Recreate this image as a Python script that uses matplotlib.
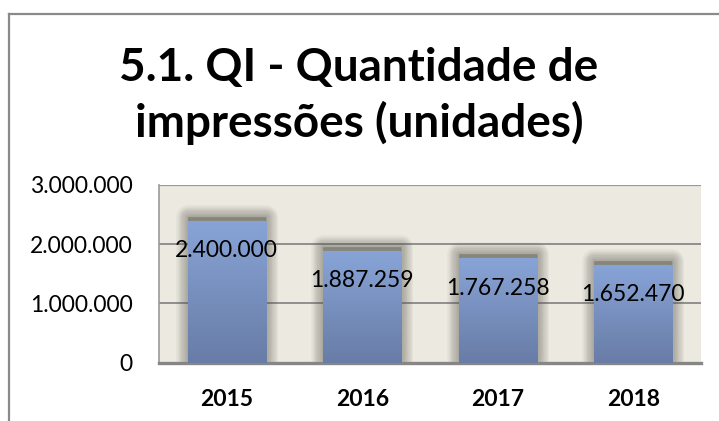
import matplotlib
matplotlib.use("Agg")
import matplotlib.pyplot as plt
import numpy as np
from matplotlib.patches import Rectangle
import matplotlib.transforms as mtransforms

years = ["2015", "2016", "2017", "2018"]
values = [2400000, 1887259, 1767258, 1652470]
value_labels = ["2.400.000", "1.887.259", "1.767.258", "1.652.470"]
yticks = [0, 1000000, 2000000, 3000000]
ytick_labels = ["0", "1.000.000", "2.000.000", "3.000.000"]
title = "5.1. QI - Quantidade de\nimpressões (unidades)"

W, H = 719, 421
fig = plt.figure(figsize=(W / 100, H / 100), dpi=100)
fig.patch.set_facecolor("white")

# outer chart border (cropped on right/bottom)
fig.add_artist(plt.Line2D([8.5 / W, 8.5 / W], [0, 1 - 14 / H], transform=fig.transFigure,
                          color="#8a8a8a", lw=1.6))
fig.add_artist(plt.Line2D([8.5 / W, 1], [1 - 14 / H, 1 - 14 / H], transform=fig.transFigure,
                          color="#8a8a8a", lw=1.6))

fig.text(359 / W, 1 - 96 / H, title, ha="center", va="center", fontsize=33,
         fontweight="bold", family="Lato", linespacing=1.3, color="black")

left, right, top, bottom = 159, 701, 185, 362.7
ax = fig.add_axes([left / W, 1 - bottom / H, (right - left) / W, (bottom - top) / H])
ax.set_facecolor("#ECEAE0")
ax.set_xlim(-0.5, 3.5)
ax.set_ylim(0, 3000000)

for yv in yticks[1:]:
    ax.axhline(yv, color="#8f8f8f", lw=1.4, zorder=1)

x = np.arange(len(years))
width = 0.576
bars = ax.bar(x, values, width=width, color="none", zorder=3)

# gradient image
grad = np.linspace(0, 1, 256).reshape(-1, 1)
top_c = np.array([0x88, 0xA4, 0xD7]) / 255
bot_c = np.array([0x68, 0x7C, 0xA6]) / 255
img = (top_c[None, None, :] * (1 - grad[..., None]) + bot_c[None, None, :] * grad[..., None])

shadow_tr = mtransforms.offset_copy(ax.transData, fig=fig, x=0, y=4, units="dots")
for b in bars:
    bx, bw, bh = b.get_x(), b.get_width(), b.get_height()
    # soft blurred shadow, shifted upward
    n = 10
    for k in range(n):
        lw = (n - k) * 1.7
        r = Rectangle((bx, 0), bw, bh, transform=shadow_tr, facecolor="#55554c",
                      alpha=0.05, edgecolor="#55554c", lw=lw, zorder=2,
                      joinstyle="round")
        ax.add_patch(r)
    im = ax.imshow(img, extent=[bx, bx + bw, 0, bh], aspect="auto", zorder=3,
                   interpolation="bilinear")
    im.set_clip_path(b)

for xi, v, lab in zip(x, values, value_labels):
    ax.annotate(lab, (xi, v), xytext=(0, -30), textcoords="offset pixels",
                ha="center", va="center", fontsize=16.5, family="Lato", zorder=5)

ax.set_yticks(yticks)
ax.set_yticklabels(ytick_labels, family="Lato", fontsize=16.5)
ax.set_xticks(x)
ax.set_xticklabels(years, family="Lato", fontsize=16.5, fontweight="bold")
ax.tick_params(axis="y", length=0, pad=19)
ax.tick_params(axis="x", length=0, pad=19)

ax.spines["right"].set_visible(False)
ax.spines["top"].set_visible(False)
ax.axhline(3000000, color="#999999", lw=1.6, zorder=4)
ax.spines["left"].set_color("#9a9a9a")
ax.spines["left"].set_linewidth(1.2)
ax.spines["bottom"].set_color("#868686")
ax.spines["bottom"].set_linewidth(2.4)

fig.savefig("out.png", dpi=100)
